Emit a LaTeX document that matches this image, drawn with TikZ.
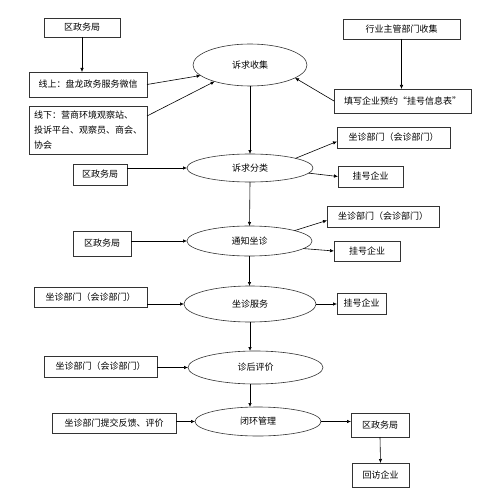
\documentclass[tikz,border=0pt]{standalone}
\usepackage{fontspec}
\setmainfont{Noto Sans CJK SC}
\usetikzlibrary{arrows.meta,shapes.geometric}

\begin{document}
\begin{tikzpicture}[x=1pt,y=-1pt,line width=0.6pt,font=\fontsize{9}{11}\selectfont,
	box/.style={rectangle,draw=black!80,inner sep=1pt,outer sep=0pt},
	proc/.style={ellipse,draw=black!80,inner sep=0pt,outer sep=0pt}]
	\useasboundingbox (0,0) rectangle (487,500);
	% top inputs
	\node (jb1) at (82,27.5) [box,minimum width=76pt,minimum height=19pt] {区政务局};
	\node (hy) at (401.5,29) [box,minimum width=117pt,minimum height=20pt] {行业主管部门收集};
	\node (xs) at (88,84.5) [box,minimum width=118pt,minimum height=25pt] {线上：盘龙政务服务微信};
	\node (xx) at (88,130) [box,minimum width=118pt,minimum height=48pt,align=left,font=\fontsize{9}{15}\selectfont] {线下：营商环境观察站、\\投诉平台、观察员、商会、\\协会};
	\node (tx) at (402.5,101) [box,minimum width=137pt,minimum height=24pt] {填写企业预约“挂号信息表”};
	% main flow
	\node (sj) at (250,65) [proc,minimum width=114pt,minimum height=42pt] {诉求收集};
	\node (fl) at (250,168) [proc,minimum width=126pt,minimum height=28pt] {诉求分类};
	\node (tz) at (249.5,241) [proc,minimum width=125pt,minimum height=30pt] {通知坐诊};
	\node (fw) at (250,304) [proc,minimum width=132pt,minimum height=36pt] {坐诊服务};
	\node (pj) at (255.5,367.5) [proc,minimum width=135pt,minimum height=33pt] {诊后评价};
	\node (bh) at (258,421.5) [proc,minimum width=126pt,minimum height=29pt] {闭环管理};
	% side boxes
	\node (jb2) at (100,174.5) [box,minimum width=54pt,minimum height=21pt] {区政务局};
	\node (zz1) at (393.5,137.5) [box,minimum width=113pt,minimum height=21pt] {坐诊部门（会诊部门）};
	\node (gh1) at (370.5,176.5) [box,minimum width=65pt,minimum height=21pt] {挂号企业};
	\node (jb3) at (102,243.5) [box,minimum width=58pt,minimum height=25pt] {区政务局};
	\node (zz2) at (383,216.5) [box,minimum width=112pt,minimum height=21pt] {坐诊部门（会诊部门）};
	\node (gh2) at (367,251) [box,minimum width=66pt,minimum height=20pt] {挂号企业};
	\node (zz3) at (90.5,297) [box,minimum width=113pt,minimum height=20pt] {坐诊部门（会诊部门）};
	\node (gh3) at (361.5,303.5) [box,minimum width=49pt,minimum height=21pt] {挂号企业};
	\node (zz4) at (100.5,366.5) [box,minimum width=113pt,minimum height=21pt] {坐诊部门（会诊部门）};
	\node (fk) at (114,423) [box,minimum width=124pt,minimum height=20pt] {坐诊部门提交反馈、评价};
	\node (jb4) at (380,425) [box,minimum width=58pt,minimum height=24pt] {区政务局};
	\node (hf) at (380.5,475) [box,minimum width=57pt,minimum height=24pt] {回访企业};
	% arrows
	\draw [-{Latex[length=4pt,width=3.5pt]}] (jb1.south) -- (jb1.south |- xs.north);
	\draw [-{Latex[length=4pt,width=3.5pt]}] (hy.south) -- (hy.south |- tx.north);
	\draw [-{Latex[length=4pt,width=3.5pt]}] (xs.east) -- (sj.192);
	\draw [-{Latex[length=4pt,width=3.5pt]}] (xx.north east) ++(0,10) -- (sj.205);
	\draw [-{Latex[length=4pt,width=3.5pt]}] (tx.west) -- (sj.344);
	\draw [-{Latex[length=4pt,width=3.5pt]}] (sj.south) -- (fl.north);
	\draw [-{Latex[length=4pt,width=3.5pt]}] (jb2.east |- fl.west) -- (fl.west);
	\draw [-{Latex[length=4pt,width=3.5pt]}] (fl.12) -- (zz1.184);
	\draw [-{Latex[length=4pt,width=3.5pt]}] (fl.355) -- (gh1.west);
	\draw [-{Latex[length=4pt,width=3.5pt]}] (fl.south) -- (tz.north);
	\draw [-{Latex[length=4pt,width=3.5pt]}] (jb3.east |- tz.west) -- (tz.west);
	\draw [-{Latex[length=4pt,width=3.5pt]}] (tz.13) -- (zz2.184);
	\draw [-{Latex[length=4pt,width=3.5pt]}] (tz.352) -- (gh2.west);
	\draw [-{Latex[length=4pt,width=3.5pt]}] (tz.south) -- (tz.south |- fw.north);
	\draw [-{Latex[length=4pt,width=3.5pt]}] (zz3.east |- fw.west) -- (fw.west);
	\draw [-{Latex[length=4pt,width=3.5pt]}] (fw.east) -- (fw.east -| gh3.west);
	\draw [-{Latex[length=4pt,width=3.5pt]}] (fw.south) -- (fw.south |- pj.north);
	\draw [-{Latex[length=4pt,width=3.5pt]}] (zz4.east |- pj.west) -- (pj.west);
	\draw [-{Latex[length=4pt,width=3.5pt]}] (fw.south |- pj.south) -- (fw.south |- bh.north);
	\draw [-{Latex[length=4pt,width=3.5pt]}] (fk.east |- bh.west) -- (bh.west);
	\draw [-{Latex[length=4pt,width=3.5pt]}] (bh.east) -- (bh.east -| jb4.west);
	\draw [-{Latex[length=4pt,width=3.5pt]}] (jb4.south) -- (hf.north);
\end{tikzpicture}
\end{document}
